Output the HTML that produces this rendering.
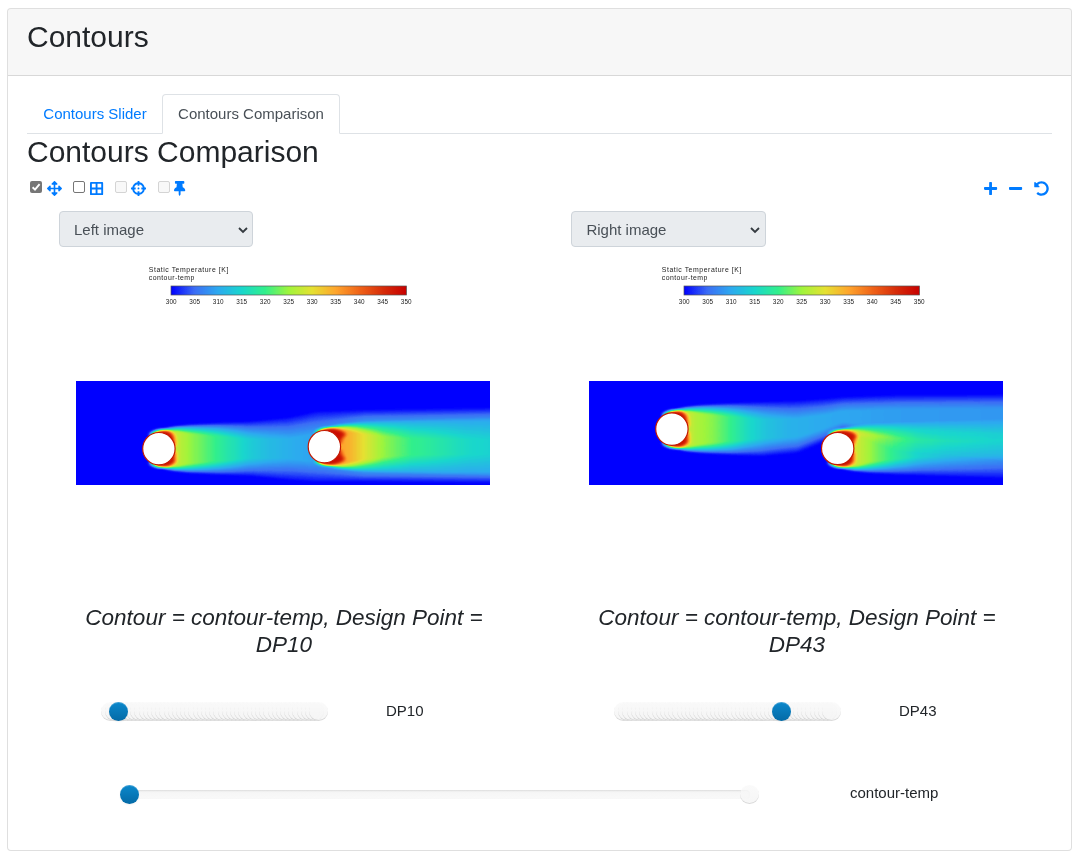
<!DOCTYPE html>
<html lang="en">
<head>
<meta charset="utf-8">
<title>Contours</title>
<style>
*{box-sizing:border-box}
html,body{margin:0;padding:0;background:#fff}
body{font-family:"Liberation Sans",Arial,sans-serif;font-size:16px;line-height:1.5;color:#212529;width:1079px;height:860px;overflow:hidden;position:relative}
.card{position:absolute;left:7px;top:8px;width:1065px;height:843px;border:1px solid rgba(0,0,0,.125);border-radius:4px;background:#fff}
.card-header{height:67px;padding:10px 19px 0 19px;background:rgba(0,0,0,.03);border-bottom:1px solid rgba(0,0,0,.125);border-radius:3px 3px 0 0}
h3{font-size:30px;font-weight:400;line-height:1.2;margin:0;color:#212529}
.card-body{position:absolute;left:20px;top:67px;width:1023px}
.tabs{position:absolute;left:-1px;top:18px;width:1025px;height:40px;border-bottom:1px solid #dee2e6}
.tab{position:absolute;top:0;height:40px;padding:8px 0 0 0;font-size:15px;text-align:center;border:1px solid transparent;border-radius:4px 4px 0 0;color:#007bff}
.tab.active{color:#495057;background:#fff;border-color:#dee2e6 #dee2e6 #fff}
.abs{position:absolute}
.cb{position:absolute;top:105px;width:12px;height:12px;border-radius:2px}
.cb.on{background:#767676}
.cb svg{position:absolute;left:0;top:0}
.cb.off{background:#fff;border:1px solid #767676}
.cb.dis{background:#f8f8f8;border:1px solid #d4d4d4}
.ic{position:absolute;fill:#007bff;overflow:visible}
.sel{position:absolute;top:135px;width:194px;height:36px;background:#e9ecef;border:1px solid #ced4da;border-radius:4px;color:#495057;font-size:15px;line-height:34px;padding:1px 0 0 14px}
.sel svg{position:absolute;right:4.5px;top:15px}
.cap{position:absolute;top:528px;width:512px;text-align:center;font-style:italic;font-size:22.5px;line-height:27px;color:#212529}
.lbl{position:absolute;font-size:15px;line-height:20px;white-space:nowrap;color:#212529}
.track{position:absolute;height:9.4px;border-radius:4px;background:linear-gradient(#f5f5f5,#f9f9f9);box-shadow:inset 0 1px 2px rgba(0,0,0,.1)}
.tick{position:absolute;width:18.75px;height:18.75px;border-radius:50%;background:linear-gradient(#f9f9f9,#f5f5f5);box-shadow:inset 0 -1px 0 rgba(0,0,0,.15);opacity:.8}
.handle{position:absolute;width:18.75px;height:18.75px;border-radius:50%;background:linear-gradient(#0b88cc,#046aa6);box-shadow:inset 0 1px 0 rgba(255,255,255,.2),0 1px 2px rgba(0,0,0,.05)}

</style>
</head>
<body>
<div class="card">
  <div class="card-header"><h3>Contours</h3></div>
  <div class="card-body">
    <div class="tabs">
      <div class="tab" style="left:1px;width:134px">Contours Slider</div>
      <div class="tab active" style="left:135px;width:178px">Contours Comparison</div>
    </div>
    <h3 class="abs" style="left:-1px;top:58px;white-space:nowrap">Contours Comparison</h3>

    <div class="cb on" style="left:2px"><svg width="12" height="12" viewBox="0 0 12 12"><path d="M2.6 6.3 L5 8.6 L9.6 3.2" fill="none" stroke="#fff" stroke-width="1.9"/></svg></div>
    <svg class="ic" style="left:19px;top:105px" width="15" height="15" viewBox="0 0 512 512"><path d="M352.201 425.775l-79.196 79.196c-9.373 9.373-24.568 9.373-33.941 0l-79.196-79.196c-15.119-15.119-4.411-40.971 16.971-40.97h51.162L228 284H127.196v51.162c0 21.382-25.851 32.09-40.971 16.971L7.029 272.937c-9.373-9.373-9.373-24.569 0-33.941L86.225 159.8c15.119-15.119 40.971-4.411 40.971 16.971V228H228V127.196h-51.23c-21.382 0-32.09-25.851-16.971-40.971l79.196-79.196c9.373-9.373 24.568-9.373 33.941 0l79.196 79.196c15.119 15.119 4.411 40.971-16.971 40.971h-51.162V228h100.804v-51.162c0-21.382 25.851-32.09 40.97-16.971l79.196 79.196c9.373 9.373 9.373 24.569 0 33.941L425.773 352.2c-15.119 15.119-40.971 4.411-40.97-16.971V284H284v100.804h51.23c21.382 0 32.09 25.851 16.971 40.971z"/></svg>
    <div class="cb off" style="left:45px"></div>
    <svg class="ic" style="left:62px;top:105px" width="13.125" height="15" viewBox="0 0 448 512"><path d="M416 32H32A32 32 0 0 0 0 64v384a32 32 0 0 0 32 32h384a32 32 0 0 0 32-32V64a32 32 0 0 0-32-32zm-32 64v128H256V96zm-192 0v128H64V96zM64 416V288h128v128zm192 0V288h128v128z"/></svg>
    <div class="cb dis" style="left:87px"></div>
    <svg class="ic" style="left:103px;top:105px" width="15" height="15" viewBox="0 0 512 512"><path d="M500 224h-30.364C455.724 130.325 381.675 56.276 288 42.364V12c0-6.627-5.373-12-12-12h-40c-6.627 0-12 5.373-12 12v30.364C130.325 56.276 56.276 130.325 42.364 224H12c-6.627 0-12 5.373-12 12v40c0 6.627 5.373 12 12 12h30.364C56.276 381.675 130.325 455.724 224 469.636V500c0 6.627 5.373 12 12 12h40c6.627 0 12-5.373 12-12v-30.364C381.675 455.724 455.724 381.675 469.636 288H500c6.627 0 12-5.373 12-12v-40c0-6.627-5.373-12-12-12zM288 404.634V364c0-6.627-5.373-12-12-12h-40c-6.627 0-12 5.373-12 12v40.634C165.826 392.232 119.783 346.243 107.366 288H148c6.627 0 12-5.373 12-12v-40c0-6.627-5.373-12-12-12h-40.634C119.768 165.826 165.757 119.783 224 107.366V148c0 6.627 5.373 12 12 12h40c6.627 0 12-5.373 12-12v-40.634C346.174 119.768 392.217 165.757 404.634 224H364c-6.627 0-12 5.373-12 12v40c0 6.627 5.373 12 12 12h40.634C392.232 346.174 346.243 392.217 288 404.634zM288 256c0 17.673-14.327 32-32 32s-32-14.327-32-32c0-17.673 14.327-32 32-32s32 14.327 32 32z"/></svg>
    <div class="cb dis" style="left:130px"></div>
    <svg class="ic" style="left:146px;top:105px" width="11.25" height="15" viewBox="0 0 384 512"><path d="M298.028 214.267L285.793 96H328c13.255 0 24-10.745 24-24V24c0-13.255-10.745-24-24-24H56C42.745 0 32 10.745 32 24v48c0 13.255 10.745 24 24 24h42.207L85.972 214.267C37.465 236.82 0 277.261 0 328c0 13.255 10.745 24 24 24h136v104.007c0 1.242.289 2.467.845 3.578l24 48c2.941 5.882 11.364 5.893 14.311 0l24-48a8.008 8.008 0 0 0 .845-3.578V352h136c13.255 0 24-10.745 24-24 0-51.183-37.983-91.42-85.972-113.733z"/></svg>

    <svg class="ic" style="left:956px;top:105px" width="13.125" height="15" viewBox="0 0 448 512"><path d="M416 208H272V64c0-17.67-14.33-32-32-32h-32c-17.67 0-32 14.33-32 32v144H32c-17.67 0-32 14.33-32 32v32c0 17.67 14.33 32 32 32h144v144c0 17.67 14.33 32 32 32h32c17.67 0 32-14.33 32-32V304h144c17.67 0 32-14.33 32-32v-32c0-17.67-14.33-32-32-32z"/></svg>
    <svg class="ic" style="left:981px;top:105px" width="13.125" height="15" viewBox="0 0 448 512"><path d="M416 208H32c-17.67 0-32 14.33-32 32v32c0 17.67 14.33 32 32 32h384c17.67 0 32-14.33 32-32v-32c0-17.67-14.33-32-32-32z"/></svg>
    <svg class="ic" style="left:1006px;top:105px" width="15" height="15" viewBox="0 0 512 512"><path d="M255.545 8c-66.269.119-126.438 26.233-170.86 68.685L48.971 40.971C33.851 25.851 8 36.559 8 57.941V192c0 13.255 10.745 24 24 24h134.059c21.382 0 32.09-25.851 16.971-40.971l-41.75-41.75c30.864-28.899 70.801-44.907 113.23-45.273 92.398-.798 170.283 73.977 169.484 169.442C423.236 348.009 349.816 424 256 424c-41.127 0-79.997-14.678-110.63-41.556-4.743-4.161-11.906-3.908-16.368.553L89.34 422.659c-4.872 4.872-4.631 12.815.482 17.433C133.798 479.813 192.074 504 256 504c136.966 0 247.999-111.033 248-247.998C504.001 119.193 392.354 7.755 255.545 8z"/></svg>

    <div class="sel" style="left:31px">Left image<svg width="10" height="7" viewBox="0 0 10 7"><path d="M1 1 L5 5 L9 1" fill="none" stroke="#343a40" stroke-width="1.8"/></svg></div>
    <div class="sel" style="left:543.4px;width:194.3px">Right image<svg width="10" height="7" viewBox="0 0 10 7"><path d="M1 1 L5 5 L9 1" fill="none" stroke="#343a40" stroke-width="1.8"/></svg></div>

    <!--PLOTS--><svg width="0" height="0" style="position:absolute"><defs>
<filter id="jet" x="0" y="0" width="100%" height="100%" color-interpolation-filters="sRGB"><feComponentTransfer><feFuncR type="table" tableValues="0.000 0.235 0.176 0.098 0.196 0.627 0.902 1.000 0.941 0.843 0.784"/><feFuncG type="table" tableValues="0.000 0.431 0.667 0.843 0.941 0.961 0.882 0.647 0.392 0.176 0.000"/><feFuncB type="table" tableValues="1.000 0.961 0.941 0.804 0.549 0.235 0.196 0.176 0.098 0.039 0.000"/></feComponentTransfer></filter>
<filter id="b1" x="-20%" y="-100%" width="140%" height="300%" color-interpolation-filters="sRGB"><feGaussianBlur stdDeviation="2.2 1.3"/></filter>
<filter id="b2" x="-20%" y="-100%" width="140%" height="300%" color-interpolation-filters="sRGB"><feGaussianBlur stdDeviation="12 5"/></filter>
<filter id="b3" x="-50%" y="-50%" width="200%" height="200%" color-interpolation-filters="sRGB"><feGaussianBlur stdDeviation="2 1.4"/></filter>
<linearGradient id="lg"><stop offset="0" stop-color="#000"/><stop offset="1" stop-color="#fff"/></linearGradient>
<linearGradient id="L1" gradientUnits="userSpaceOnUse" x1="82" y1="0" x2="470" y2="0"><stop offset="0.000" stop-color="#fff" stop-opacity="0.1279"/><stop offset="0.049" stop-color="#fff" stop-opacity="0.1279"/><stop offset="0.067" stop-color="#fff" stop-opacity="0.1151"/><stop offset="0.093" stop-color="#fff" stop-opacity="0.1033"/><stop offset="0.129" stop-color="#fff" stop-opacity="0.0894"/><stop offset="0.178" stop-color="#fff" stop-opacity="0.0717"/><stop offset="0.229" stop-color="#fff" stop-opacity="0.0555"/><stop offset="0.278" stop-color="#fff" stop-opacity="0.0458"/><stop offset="0.353" stop-color="#fff" stop-opacity="0.0385"/><stop offset="0.407" stop-color="#fff" stop-opacity="0.0345"/><stop offset="0.562" stop-color="#fff" stop-opacity="0.0335"/><stop offset="1.000" stop-color="#fff" stop-opacity="0.0325"/></linearGradient><linearGradient id="L2" gradientUnits="userSpaceOnUse" x1="248" y1="0" x2="470" y2="0"><stop offset="0.000" stop-color="#fff" stop-opacity="0.1526"/><stop offset="0.099" stop-color="#fff" stop-opacity="0.1526"/><stop offset="0.198" stop-color="#fff" stop-opacity="0.1046"/><stop offset="0.266" stop-color="#fff" stop-opacity="0.0782"/><stop offset="0.374" stop-color="#fff" stop-opacity="0.0551"/><stop offset="0.505" stop-color="#fff" stop-opacity="0.0430"/><stop offset="0.635" stop-color="#fff" stop-opacity="0.0307"/><stop offset="0.739" stop-color="#fff" stop-opacity="0.0260"/><stop offset="1.000" stop-color="#fff" stop-opacity="0.0192"/></linearGradient><linearGradient id="R1" gradientUnits="userSpaceOnUse" x1="82" y1="0" x2="470" y2="0"><stop offset="0.000" stop-color="#fff" stop-opacity="0.1279"/><stop offset="0.049" stop-color="#fff" stop-opacity="0.1279"/><stop offset="0.067" stop-color="#fff" stop-opacity="0.1151"/><stop offset="0.101" stop-color="#fff" stop-opacity="0.1062"/><stop offset="0.144" stop-color="#fff" stop-opacity="0.0868"/><stop offset="0.196" stop-color="#fff" stop-opacity="0.0623"/><stop offset="0.245" stop-color="#fff" stop-opacity="0.0489"/><stop offset="0.296" stop-color="#fff" stop-opacity="0.0416"/><stop offset="0.397" stop-color="#fff" stop-opacity="0.0375"/><stop offset="0.562" stop-color="#fff" stop-opacity="0.0335"/><stop offset="1.000" stop-color="#fff" stop-opacity="0.0296"/></linearGradient><linearGradient id="R2" gradientUnits="userSpaceOnUse" x1="248" y1="0" x2="470" y2="0"><stop offset="0.000" stop-color="#fff" stop-opacity="0.1343"/><stop offset="0.081" stop-color="#fff" stop-opacity="0.1343"/><stop offset="0.126" stop-color="#fff" stop-opacity="0.1173"/><stop offset="0.185" stop-color="#fff" stop-opacity="0.0966"/><stop offset="0.270" stop-color="#fff" stop-opacity="0.0750"/><stop offset="0.360" stop-color="#fff" stop-opacity="0.0577"/><stop offset="0.491" stop-color="#fff" stop-opacity="0.0474"/><stop offset="0.622" stop-color="#fff" stop-opacity="0.0411"/><stop offset="0.743" stop-color="#fff" stop-opacity="0.0356"/><stop offset="1.000" stop-color="#fff" stop-opacity="0.0313"/></linearGradient>
</defs></svg><svg class="abs" style="left:120px;top:181px" width="300" height="56" viewBox="0 0 300 56" font-family="Liberation Sans, Arial, sans-serif" fill="#222"><text x="0.8" y="15" font-size="6.9" textLength="79.5" lengthAdjust="spacing">Static Temperature [K]</text><text x="0.8" y="23.3" font-size="6.9" textLength="45.5" lengthAdjust="spacing">contour-temp</text><g filter="url(#jet)"><rect x="23" y="29" width="235.5" height="9" fill="url(#lg)"/></g><rect x="23" y="29" width="235.5" height="9" fill="none" stroke="#555" stroke-width=".7"/><text x="23.2" y="47" font-size="6.4" text-anchor="middle">300</text><text x="46.7" y="47" font-size="6.4" text-anchor="middle">305</text><text x="70.2" y="47" font-size="6.4" text-anchor="middle">310</text><text x="93.7" y="47" font-size="6.4" text-anchor="middle">315</text><text x="117.2" y="47" font-size="6.4" text-anchor="middle">320</text><text x="140.7" y="47" font-size="6.4" text-anchor="middle">325</text><text x="164.2" y="47" font-size="6.4" text-anchor="middle">330</text><text x="187.7" y="47" font-size="6.4" text-anchor="middle">335</text><text x="211.2" y="47" font-size="6.4" text-anchor="middle">340</text><text x="234.7" y="47" font-size="6.4" text-anchor="middle">345</text><text x="258.2" y="47" font-size="6.4" text-anchor="middle">350</text></svg><svg class="abs" style="left:633px;top:181px" width="300" height="56" viewBox="0 0 300 56" font-family="Liberation Sans, Arial, sans-serif" fill="#222"><text x="0.8" y="15" font-size="6.9" textLength="79.5" lengthAdjust="spacing">Static Temperature [K]</text><text x="0.8" y="23.3" font-size="6.9" textLength="45.5" lengthAdjust="spacing">contour-temp</text><g filter="url(#jet)"><rect x="23" y="29" width="235.5" height="9" fill="url(#lg)"/></g><rect x="23" y="29" width="235.5" height="9" fill="none" stroke="#555" stroke-width=".7"/><text x="23.2" y="47" font-size="6.4" text-anchor="middle">300</text><text x="46.7" y="47" font-size="6.4" text-anchor="middle">305</text><text x="70.2" y="47" font-size="6.4" text-anchor="middle">310</text><text x="93.7" y="47" font-size="6.4" text-anchor="middle">315</text><text x="117.2" y="47" font-size="6.4" text-anchor="middle">320</text><text x="140.7" y="47" font-size="6.4" text-anchor="middle">325</text><text x="164.2" y="47" font-size="6.4" text-anchor="middle">330</text><text x="187.7" y="47" font-size="6.4" text-anchor="middle">335</text><text x="211.2" y="47" font-size="6.4" text-anchor="middle">340</text><text x="234.7" y="47" font-size="6.4" text-anchor="middle">345</text><text x="258.2" y="47" font-size="6.4" text-anchor="middle">350</text></svg><svg class="abs" style="left:48px;top:305px" width="414" height="104" viewBox="0 0 414 104"><g filter="url(#jet)"><rect width="414" height="104" fill="#000"/><g filter="url(#b1)" fill="url(#L1)"><path d="M81.9 52.5 L90.9 50.2 L98.9 50.2 L112.9 51.7 L142.9 54.2 L172.9 56.7 L212.9 56.7 L240.4 50.7 L288.4 40.7 L470.0 37.7 L470.0 92.7 L288.4 90.7 L240.4 82.7 L212.9 78.7 L172.9 78.7 L142.9 81.2 L112.9 83.7 L98.9 85.2 L90.9 85.2 L81.9 82.9Z"/><path d="M81.9 52.2 L90.9 49.6 L98.9 49.3 L112.9 50.2 L142.9 51.9 L172.9 53.7 L212.9 52.9 L240.4 46.9 L288.4 38.5 L470.0 35.5 L470.0 94.5 L288.4 92.5 L240.4 86.1 L212.9 82.5 L172.9 81.7 L142.9 83.5 L112.9 85.2 L98.9 86.1 L90.9 85.8 L81.9 83.2Z"/><path d="M81.9 51.9 L90.9 49.0 L98.9 48.4 L112.9 48.7 L142.9 49.6 L172.9 50.7 L212.9 49.1 L240.4 43.1 L288.4 36.3 L470.0 33.3 L470.0 96.3 L288.4 94.3 L240.4 89.5 L212.9 86.3 L172.9 84.7 L142.9 85.8 L112.9 86.7 L98.9 87.0 L90.9 86.4 L81.9 83.5Z"/><path d="M81.9 51.6 L90.9 48.4 L98.9 47.5 L112.9 47.2 L142.9 47.3 L172.9 47.7 L212.9 45.3 L240.4 39.3 L288.4 34.1 L470.0 31.1 L470.0 98.1 L288.4 96.1 L240.4 92.9 L212.9 90.1 L172.9 87.7 L142.9 88.1 L112.9 88.2 L98.9 87.9 L90.9 87.0 L81.9 83.8Z"/><path d="M81.9 51.3 L90.9 47.8 L98.9 46.6 L112.9 45.7 L142.9 45.0 L172.9 44.7 L212.9 41.5 L240.4 35.5 L288.4 31.9 L470.0 28.9 L470.0 99.9 L288.4 97.9 L240.4 96.3 L212.9 93.9 L172.9 90.7 L142.9 90.4 L112.9 89.7 L98.9 88.8 L90.9 87.6 L81.9 84.1Z"/><path d="M81.9 51.0 L90.9 47.2 L98.9 45.7 L112.9 44.2 L142.9 42.7 L172.9 41.7 L212.9 37.7 L240.4 31.7 L288.4 29.7 L470.0 26.7 L470.0 101.7 L288.4 99.7 L240.4 99.7 L212.9 97.7 L172.9 93.7 L142.9 92.7 L112.9 91.2 L98.9 89.7 L90.9 88.2 L81.9 84.4Z"/></g><g filter="url(#b1)" fill="url(#L2)"><path d="M247.4 50.5 L256.4 48.2 L264.4 48.2 L278.4 50.7 L308.4 54.2 L338.4 56.2 L398.4 56.7 L470.0 55.7 L470.0 75.7 L398.4 74.7 L338.4 75.2 L308.4 77.2 L278.4 80.7 L264.4 83.2 L256.4 83.2 L247.4 80.9Z"/><path d="M247.4 50.2 L256.4 47.6 L264.4 47.3 L278.4 49.0 L308.4 51.5 L338.4 52.9 L398.4 52.9 L470.0 51.5 L470.0 79.9 L398.4 78.5 L338.4 78.5 L308.4 79.9 L278.4 82.4 L264.4 84.1 L256.4 83.8 L247.4 81.2Z"/><path d="M247.4 49.9 L256.4 47.0 L264.4 46.4 L278.4 47.3 L308.4 48.8 L338.4 49.6 L398.4 49.1 L470.0 47.3 L470.0 84.1 L398.4 82.3 L338.4 81.8 L308.4 82.6 L278.4 84.1 L264.4 85.0 L256.4 84.4 L247.4 81.5Z"/><path d="M247.4 49.6 L256.4 46.4 L264.4 45.5 L278.4 45.6 L308.4 46.1 L338.4 46.3 L398.4 45.3 L470.0 43.1 L470.0 88.3 L398.4 86.1 L338.4 85.1 L308.4 85.3 L278.4 85.8 L264.4 85.9 L256.4 85.0 L247.4 81.8Z"/><path d="M247.4 49.3 L256.4 45.8 L264.4 44.6 L278.4 43.9 L308.4 43.4 L338.4 43.0 L398.4 41.5 L470.0 38.9 L470.0 92.5 L398.4 89.9 L338.4 88.4 L308.4 88.0 L278.4 87.5 L264.4 86.8 L256.4 85.6 L247.4 82.1Z"/><path d="M247.4 49.0 L256.4 45.2 L264.4 43.7 L278.4 42.2 L308.4 40.7 L338.4 39.7 L398.4 37.7 L470.0 34.7 L470.0 96.7 L398.4 93.7 L338.4 91.7 L308.4 90.7 L278.4 89.2 L264.4 87.7 L256.4 86.2 L247.4 82.4Z"/></g><path filter="url(#b3)" fill="#fff" fill-opacity=".92" d="M75.2 53.2 L78.4 51.0 L82.9 49.5 L87.8 49.3 L92.2 50.1 L95.3 51.8 L97.2 53.9 L98.0 55.9 L98.3 58.1 L98.8 61.3 L99.0 64.3 L94.2 65.7 L79.9 59.7Z"/><path filter="url(#b3)" fill="#fff" fill-opacity=".92" d="M75.2 82.2 L78.4 84.4 L82.9 85.9 L87.9 86.1 L92.7 85.3 L96.4 83.6 L98.7 81.5 L99.5 79.5 L99.2 77.3 L99.1 74.1 L99.0 71.1 L94.2 69.7 L79.9 75.7Z"/><path filter="url(#b3)" fill="#fff" fill-opacity=".92" d="M240.7 51.2 L243.9 49.0 L248.4 47.5 L253.6 47.3 L259.5 48.1 L265.0 49.8 L268.7 51.9 L269.5 53.9 L267.1 56.1 L265.2 59.3 L264.5 62.3 L259.7 63.7 L245.4 57.7Z"/><path filter="url(#b3)" fill="#fff" fill-opacity=".92" d="M240.7 80.2 L243.9 82.4 L248.4 83.9 L253.6 84.1 L259.2 83.3 L264.3 81.6 L267.7 79.5 L268.5 77.5 L266.6 75.3 L265.1 72.1 L264.5 69.1 L259.7 67.7 L245.4 73.7Z"/></g><circle cx="82.9" cy="67.7" r="16.2" fill="#fff" stroke="#c41800" stroke-width="1.2"/><circle cx="248.4" cy="65.7" r="16.2" fill="#fff" stroke="#c41800" stroke-width="1.2"/></svg><svg class="abs" style="left:561px;top:305px" width="414" height="104" viewBox="0 0 414 104"><g filter="url(#jet)"><rect width="414" height="104" fill="#000"/><g filter="url(#b1)" fill="url(#R1)"><path d="M81.9 32.9 L90.9 30.6 L98.9 30.6 L112.9 32.1 L142.9 34.6 L172.9 37.1 L207.9 37.1 L234.7 33.1 L253.7 29.1 L308.7 27.1 L470.0 26.1 L470.0 59.1 L308.7 49.1 L253.7 42.1 L234.7 49.1 L207.9 57.1 L172.9 59.1 L142.9 61.6 L112.9 64.1 L98.9 65.6 L90.9 65.6 L81.9 63.3Z"/><path d="M81.9 32.6 L90.9 30.0 L98.9 29.7 L112.9 30.6 L142.9 32.3 L172.9 34.1 L207.9 33.9 L234.7 30.3 L253.7 26.7 L308.7 24.7 L470.0 23.7 L470.0 64.1 L308.7 53.1 L253.7 43.5 L234.7 51.3 L207.9 59.9 L172.9 62.1 L142.9 63.9 L112.9 65.6 L98.9 66.5 L90.9 66.2 L81.9 63.6Z"/><path d="M81.9 32.3 L90.9 29.4 L98.9 28.8 L112.9 29.1 L142.9 30.0 L172.9 31.1 L207.9 30.7 L234.7 27.5 L253.7 24.3 L308.7 22.3 L470.0 21.3 L470.0 69.1 L308.7 57.1 L253.7 44.9 L234.7 53.5 L207.9 62.7 L172.9 65.1 L142.9 66.2 L112.9 67.1 L98.9 67.4 L90.9 66.8 L81.9 63.9Z"/><path d="M81.9 32.0 L90.9 28.8 L98.9 27.9 L112.9 27.6 L142.9 27.7 L172.9 28.1 L207.9 27.5 L234.7 24.7 L253.7 21.9 L308.7 19.9 L470.0 18.9 L470.0 74.1 L308.7 61.1 L253.7 46.3 L234.7 55.7 L207.9 65.5 L172.9 68.1 L142.9 68.5 L112.9 68.6 L98.9 68.3 L90.9 67.4 L81.9 64.2Z"/><path d="M81.9 31.7 L90.9 28.2 L98.9 27.0 L112.9 26.1 L142.9 25.4 L172.9 25.1 L207.9 24.3 L234.7 21.9 L253.7 19.5 L308.7 17.5 L470.0 16.5 L470.0 79.1 L308.7 65.1 L253.7 47.7 L234.7 57.9 L207.9 68.3 L172.9 71.1 L142.9 70.8 L112.9 70.1 L98.9 69.2 L90.9 68.0 L81.9 64.5Z"/><path d="M81.9 31.4 L90.9 27.6 L98.9 26.1 L112.9 24.6 L142.9 23.1 L172.9 22.1 L207.9 21.1 L234.7 19.1 L253.7 17.1 L308.7 15.1 L470.0 14.1 L470.0 84.1 L308.7 69.1 L253.7 49.1 L234.7 60.1 L207.9 71.1 L172.9 74.1 L142.9 73.1 L112.9 71.6 L98.9 70.1 L90.9 68.6 L81.9 64.8Z"/></g><g filter="url(#b1)" fill="url(#R2)"><path d="M247.7 52.3 L256.7 50.0 L264.7 50.0 L278.7 52.5 L308.7 56.0 L338.7 58.0 L398.7 58.5 L470.0 57.5 L470.0 77.5 L398.7 76.5 L338.7 77.0 L308.7 79.0 L278.7 82.5 L264.7 85.0 L256.7 85.0 L247.7 82.7Z"/><path d="M247.7 52.0 L256.7 49.4 L264.7 49.1 L278.7 50.8 L308.7 53.3 L338.7 54.7 L398.7 54.7 L470.0 53.3 L470.0 81.7 L398.7 80.3 L338.7 80.3 L308.7 81.7 L278.7 84.2 L264.7 85.9 L256.7 85.6 L247.7 83.0Z"/><path d="M247.7 51.7 L256.7 48.8 L264.7 48.2 L278.7 49.1 L308.7 50.6 L338.7 51.4 L398.7 50.9 L470.0 49.1 L470.0 85.9 L398.7 84.1 L338.7 83.6 L308.7 84.4 L278.7 85.9 L264.7 86.8 L256.7 86.2 L247.7 83.3Z"/><path d="M247.7 51.4 L256.7 48.2 L264.7 47.3 L278.7 47.4 L308.7 47.9 L338.7 48.1 L398.7 47.1 L470.0 44.9 L470.0 90.1 L398.7 87.9 L338.7 86.9 L308.7 87.1 L278.7 87.6 L264.7 87.7 L256.7 86.8 L247.7 83.6Z"/><path d="M247.7 51.1 L256.7 47.6 L264.7 46.4 L278.7 45.7 L308.7 45.2 L338.7 44.8 L398.7 43.3 L470.0 40.7 L470.0 94.3 L398.7 91.7 L338.7 90.2 L308.7 89.8 L278.7 89.3 L264.7 88.6 L256.7 87.4 L247.7 83.9Z"/><path d="M247.7 50.8 L256.7 47.0 L264.7 45.5 L278.7 44.0 L308.7 42.5 L338.7 41.5 L398.7 39.5 L470.0 36.5 L470.0 98.5 L398.7 95.5 L338.7 93.5 L308.7 92.5 L278.7 91.0 L264.7 89.5 L256.7 88.0 L247.7 84.2Z"/></g><path filter="url(#b3)" fill="#fff" fill-opacity=".92" d="M75.2 33.6 L78.4 31.4 L82.9 29.9 L87.8 29.7 L92.2 30.5 L95.3 32.2 L97.2 34.3 L98.0 36.3 L98.3 38.5 L98.8 41.7 L99.0 44.7 L94.2 46.1 L79.9 40.1Z"/><path filter="url(#b3)" fill="#fff" fill-opacity=".92" d="M75.2 62.6 L78.4 64.8 L82.9 66.3 L87.9 66.5 L92.7 65.7 L96.4 64.0 L98.7 61.9 L99.5 59.9 L99.2 57.7 L99.1 54.5 L99.0 51.5 L94.2 50.1 L79.9 56.1Z"/><path filter="url(#b3)" fill="#fff" fill-opacity=".92" d="M241.0 53.0 L244.2 50.8 L248.7 49.3 L253.8 49.1 L259.2 49.9 L263.9 51.6 L267.0 53.7 L267.8 55.7 L266.3 57.9 L265.2 61.1 L264.8 64.1 L260.0 65.5 L245.7 59.5Z"/><path filter="url(#b3)" fill="#fff" fill-opacity=".92" d="M241.0 82.0 L244.2 84.2 L248.7 85.7 L253.7 85.9 L258.3 85.1 L261.8 83.4 L264.0 81.3 L264.8 79.3 L264.7 77.1 L264.8 73.9 L264.8 70.9 L260.0 69.5 L245.7 75.5Z"/></g><circle cx="82.9" cy="48.1" r="16.2" fill="#fff" stroke="#c41800" stroke-width="1.2"/><circle cx="248.7" cy="67.5" r="16.2" fill="#fff" stroke="#c41800" stroke-width="1.2"/></svg><!--/PLOTS-->

    <div class="cap" style="left:0">Contour = contour-temp, Design Point =<br>DP10</div>
    <div class="cap" style="left:513px">Contour = contour-temp, Design Point =<br>DP43</div>

    <div id="s1"><i class="tick" style="left:73.12px;top:626.02px"></i><i class="tick" style="left:77.28px;top:626.02px"></i><i class="tick" style="left:81.44px;top:626.02px"></i><i class="tick" style="left:85.61px;top:626.02px"></i><i class="tick" style="left:89.77px;top:626.02px"></i><i class="tick" style="left:93.93px;top:626.02px"></i><i class="tick" style="left:98.09px;top:626.02px"></i><i class="tick" style="left:102.25px;top:626.02px"></i><i class="tick" style="left:106.41px;top:626.02px"></i><i class="tick" style="left:110.56px;top:626.02px"></i><i class="tick" style="left:114.72px;top:626.02px"></i><i class="tick" style="left:118.88px;top:626.02px"></i><i class="tick" style="left:123.05px;top:626.02px"></i><i class="tick" style="left:127.20px;top:626.02px"></i><i class="tick" style="left:131.37px;top:626.02px"></i><i class="tick" style="left:135.53px;top:626.02px"></i><i class="tick" style="left:139.69px;top:626.02px"></i><i class="tick" style="left:143.84px;top:626.02px"></i><i class="tick" style="left:148.00px;top:626.02px"></i><i class="tick" style="left:152.17px;top:626.02px"></i><i class="tick" style="left:156.32px;top:626.02px"></i><i class="tick" style="left:160.49px;top:626.02px"></i><i class="tick" style="left:164.64px;top:626.02px"></i><i class="tick" style="left:168.81px;top:626.02px"></i><i class="tick" style="left:172.97px;top:626.02px"></i><i class="tick" style="left:177.12px;top:626.02px"></i><i class="tick" style="left:181.28px;top:626.02px"></i><i class="tick" style="left:185.44px;top:626.02px"></i><i class="tick" style="left:189.61px;top:626.02px"></i><i class="tick" style="left:193.76px;top:626.02px"></i><i class="tick" style="left:197.93px;top:626.02px"></i><i class="tick" style="left:202.09px;top:626.02px"></i><i class="tick" style="left:206.25px;top:626.02px"></i><i class="tick" style="left:210.41px;top:626.02px"></i><i class="tick" style="left:214.56px;top:626.02px"></i><i class="tick" style="left:218.73px;top:626.02px"></i><i class="tick" style="left:222.88px;top:626.02px"></i><i class="tick" style="left:227.04px;top:626.02px"></i><i class="tick" style="left:231.21px;top:626.02px"></i><i class="tick" style="left:235.37px;top:626.02px"></i><i class="tick" style="left:239.52px;top:626.02px"></i><i class="tick" style="left:243.69px;top:626.02px"></i><i class="tick" style="left:247.85px;top:626.02px"></i><i class="tick" style="left:252.00px;top:626.02px"></i><i class="tick" style="left:256.16px;top:626.02px"></i><i class="tick" style="left:260.32px;top:626.02px"></i><i class="tick" style="left:264.49px;top:626.02px"></i><i class="tick" style="left:268.64px;top:626.02px"></i><i class="tick" style="left:272.81px;top:626.02px"></i><i class="tick" style="left:276.97px;top:626.02px"></i><i class="tick" style="left:281.12px;top:626.02px"></i><i class="handle" style="left:81.44px;top:626.02px"></i></div>
    <div class="lbl" style="left:358px;top:625px">DP10</div>
    <div id="s2"><i class="tick" style="left:586.12px;top:626.02px"></i><i class="tick" style="left:590.28px;top:626.02px"></i><i class="tick" style="left:594.45px;top:626.02px"></i><i class="tick" style="left:598.61px;top:626.02px"></i><i class="tick" style="left:602.76px;top:626.02px"></i><i class="tick" style="left:606.92px;top:626.02px"></i><i class="tick" style="left:611.09px;top:626.02px"></i><i class="tick" style="left:615.25px;top:626.02px"></i><i class="tick" style="left:619.40px;top:626.02px"></i><i class="tick" style="left:623.57px;top:626.02px"></i><i class="tick" style="left:627.73px;top:626.02px"></i><i class="tick" style="left:631.88px;top:626.02px"></i><i class="tick" style="left:636.04px;top:626.02px"></i><i class="tick" style="left:640.21px;top:626.02px"></i><i class="tick" style="left:644.37px;top:626.02px"></i><i class="tick" style="left:648.52px;top:626.02px"></i><i class="tick" style="left:652.68px;top:626.02px"></i><i class="tick" style="left:656.85px;top:626.02px"></i><i class="tick" style="left:661.00px;top:626.02px"></i><i class="tick" style="left:665.16px;top:626.02px"></i><i class="tick" style="left:669.33px;top:626.02px"></i><i class="tick" style="left:673.49px;top:626.02px"></i><i class="tick" style="left:677.64px;top:626.02px"></i><i class="tick" style="left:681.81px;top:626.02px"></i><i class="tick" style="left:685.97px;top:626.02px"></i><i class="tick" style="left:690.12px;top:626.02px"></i><i class="tick" style="left:694.28px;top:626.02px"></i><i class="tick" style="left:698.44px;top:626.02px"></i><i class="tick" style="left:702.61px;top:626.02px"></i><i class="tick" style="left:706.76px;top:626.02px"></i><i class="tick" style="left:710.92px;top:626.02px"></i><i class="tick" style="left:715.09px;top:626.02px"></i><i class="tick" style="left:719.25px;top:626.02px"></i><i class="tick" style="left:723.40px;top:626.02px"></i><i class="tick" style="left:727.57px;top:626.02px"></i><i class="tick" style="left:731.73px;top:626.02px"></i><i class="tick" style="left:735.88px;top:626.02px"></i><i class="tick" style="left:740.04px;top:626.02px"></i><i class="tick" style="left:744.21px;top:626.02px"></i><i class="tick" style="left:748.37px;top:626.02px"></i><i class="tick" style="left:752.52px;top:626.02px"></i><i class="tick" style="left:756.68px;top:626.02px"></i><i class="tick" style="left:760.85px;top:626.02px"></i><i class="tick" style="left:765.00px;top:626.02px"></i><i class="tick" style="left:769.16px;top:626.02px"></i><i class="tick" style="left:773.33px;top:626.02px"></i><i class="tick" style="left:777.49px;top:626.02px"></i><i class="tick" style="left:781.64px;top:626.02px"></i><i class="tick" style="left:785.81px;top:626.02px"></i><i class="tick" style="left:789.97px;top:626.02px"></i><i class="tick" style="left:794.12px;top:626.02px"></i><i class="handle" style="left:744.21px;top:626.02px"></i></div>
    <div class="lbl" style="left:871px;top:625px">DP43</div>

    <div class="track" style="left:101.20px;top:714.10px;width:620.6px"></div>
    <i class="tick" style="left:712.42px;top:708.92px"></i>
    <i class="handle" style="left:91.82px;top:708.92px"></i>
    <div class="lbl" style="left:822px;top:707px">contour-temp</div>
  </div>
</div>
</body>
</html>
